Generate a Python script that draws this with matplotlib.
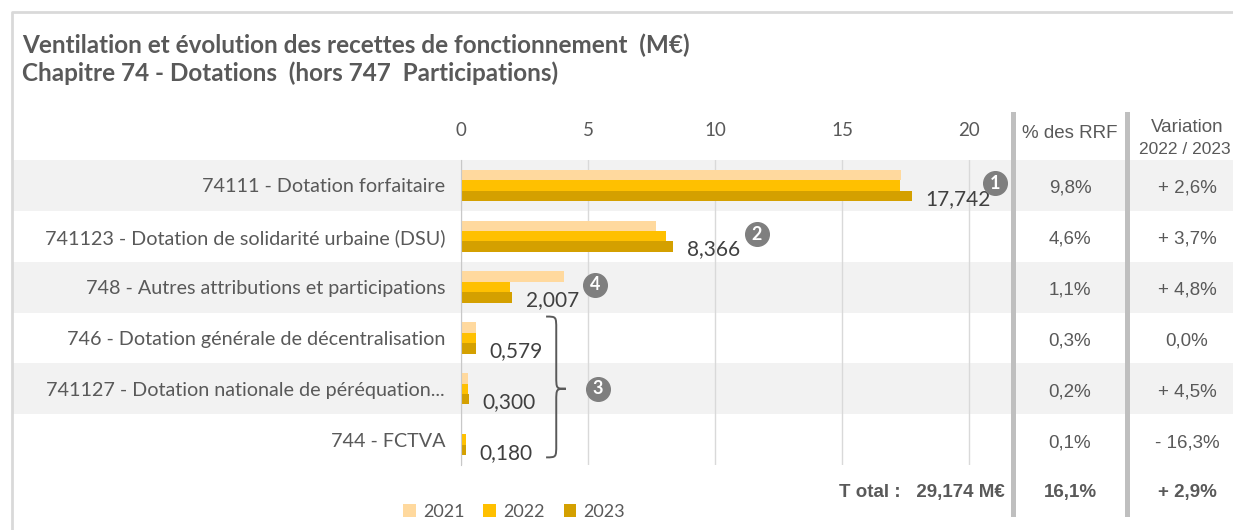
import matplotlib.pyplot as plt
import numpy as np
from matplotlib.lines import Line2D
from matplotlib.patches import Rectangle, PathPatch
from matplotlib.path import Path
from matplotlib.transforms import blended_transform_factory, offset_copy

plt.rcParams['font.family'] = ['Lato', 'DejaVu Sans']

# data
categories = [
    '74111 - Dotation forfaitaire',
    '741123 - Dotation de solidarité urbaine (DSU)',
    '748 - Autres attributions et participations',
    '746 - Dotation générale de décentralisation',
    '741127 - Dotation nationale de péréquation...',
    '744 - FCTVA',
]
years = ['2021', '2022', '2023']
v2021 = [17.33, 7.68, 4.04, 0.58, 0.28, 0.0]
v2022 = [17.29, 8.07, 1.915, 0.579, 0.287, 0.215]
v2023 = [17.742, 8.366, 2.007, 0.579, 0.300, 0.180]
pct_rrf = ['9,8%', '4,6%', '1,1%', '0,3%', '0,2%', '0,1%']
variation = ['+ 2,6%', '+ 3,7%', '+ 4,8%', '0,0%', '+ 4,5%', '- 16,3%']
total_label = 'T otal :   29,174 M€'
total_pct = '16,1%'
total_var = '+ 2,9%'
badges = ['1', '2', '4']          # badges next to rows 0, 1, 2
xticks = [0, 5, 10, 15, 20]

colors = ['#FFD99E', '#FFC000', '#D4A000']
grey_txt = '#595959'

W, H = 1233, 530
def fx(px):
    return px / W
def fy(py):
    return 1 - py / H

fig = plt.figure(figsize=(W / 100, H / 100), dpi=100)

# bar axes: x=0 at 461px, 25.4 px per unit
x0, x1 = 461, 1010
top, bot = 160, 465
ax = fig.add_axes([fx(x0), fy(bot), (x1 - x0) / W, (bot - top) / H])
ax.set_xlim(0, (x1 - x0) / 25.4)
n = len(categories)
y = np.arange(n)

# alternating row bands across the whole figure width
for i in range(0, n, 2):
    ax.axhspan(i - 0.5, i + 0.5, xmin=(12 - x0) / (x1 - x0), xmax=(W - x0) / (x1 - x0),
               color='#F2F2F2', zorder=0, clip_on=False, lw=0)

h = 0.205
bars = []
for k, (vals, c) in enumerate(zip([v2021, v2022, v2023], colors)):
    b = ax.barh(y + (k - 1) * h, vals, height=h, color=c, zorder=2)
    bars.append(b)

ax.set_ylim(n - 0.5, -0.5)
ax.set_axisbelow(True)
ax.grid(axis='x', color='#D9D9D9', lw=1)
ax.set_xticks(xticks)
ax.xaxis.tick_top()
ax.tick_params(axis='x', length=0, pad=15, labelsize=13.5, labelcolor=grey_txt)
ax.set_yticks(y)
ax.set_yticklabels(categories)
ax.tick_params(axis='y', length=0, pad=11.5, labelsize=14.2, labelcolor=grey_txt)
for s in ['top', 'right', 'bottom']:
    ax.spines[s].set_visible(False)
ax.spines['left'].set_color('#C8C8C8')

# value labels for 2023
for i, v in enumerate(v2023):
    ax.annotate(f'{v:.3f}'.replace('.', ','), xy=(v, i), xytext=(10, -9.5),
                textcoords='offset points', ha='left', va='center',
                fontsize=15, color='#404040', zorder=4)

# numbered badges
badge_tr = offset_copy(ax.transData, fig=fig, x=60, y=1.5, units='points')
for i, num in enumerate(badges):
    ax.plot(v2023[i], i, marker='o', ms=17, color='#7F7F7F', transform=badge_tr,
            clip_on=False, zorder=5)
    ax.text(v2023[i], i, num, transform=badge_tr, ha='center', va='center',
            color='white', fontweight='bold', fontsize=13, zorder=6)
ax.plot(5.4, 4.0, marker='o', ms=17, color='#7F7F7F', clip_on=False, zorder=5)
ax.text(5.4, 4.0, '3', ha='center', va='center', color='white',
        fontweight='bold', fontsize=13, zorder=6)

# curly brace grouping rows 3-5
bx0, bx1, bx2 = 3.35, 3.75, 4.13
yt, ytip, yb, r = 2.58, 4.0, 5.35, 0.25
verts = [(bx0, yt), (bx1, yt), (bx1, yt), (bx1, yt + r),
         (bx1, ytip - r),
         (bx1, ytip), (bx1, ytip), (bx2, ytip),
         (bx1, ytip), (bx1, ytip), (bx1, ytip + r),
         (bx1, yb - r),
         (bx1, yb), (bx1, yb), (bx0, yb)]
codes = [Path.MOVETO, Path.CURVE4, Path.CURVE4, Path.CURVE4,
         Path.LINETO,
         Path.CURVE4, Path.CURVE4, Path.CURVE4,
         Path.CURVE4, Path.CURVE4, Path.CURVE4,
         Path.LINETO,
         Path.CURVE4, Path.CURVE4, Path.CURVE4]
ax.add_patch(PathPatch(Path(verts, codes), fill=False, ec=grey_txt, lw=1.4,
                       clip_on=False, zorder=4))

# right-hand table columns
tr = blended_transform_factory(fig.transFigure, ax.transData)
col1, col2 = fx(1070), fx(1187)
tfont = dict(family=['Liberation Sans', 'DejaVu Sans'], fontsize=13.5, color=grey_txt,
             ha='center', va='center')
for i in range(n):
    ax.text(col1, i + 0.06, pct_rrf[i], transform=tr, **tfont)
    ax.text(col2, i + 0.06, variation[i], transform=tr, **tfont)
fig.text(col1, fy(134), '% des RRF', **tfont)
fig.text(col2, fy(127), 'Variation', **tfont)
fig.text(fx(1185), fy(149), '2022 / 2023', **dict(tfont, fontsize=12.5))

bfont = dict(family=['Liberation Sans', 'DejaVu Sans'], fontsize=13.5, color=grey_txt,
             fontweight='bold', va='center')
fig.text(fx(1005), fy(493), total_label, ha='right', **bfont)
fig.text(col1, fy(493), total_pct, ha='center', **bfont)
fig.text(col2, fy(493), total_var, ha='center', **bfont)

# vertical separators
for sx in [1011, 1125]:
    fig.add_artist(Rectangle((fx(sx), fy(517)), 5 / W, (517 - 112) / H,
                             transform=fig.transFigure, color='#BFBFBF', lw=0))

# outer border
fig.add_artist(Line2D([fx(12), fx(12), 1], [0, fy(12), fy(12)],
                      transform=fig.transFigure, color='#D9D9D9', lw=2))

# titles
fig.text(fx(22), fy(45), 'Ventilation et évolution des recettes de fonctionnement  (M€)',
         fontsize=17.5, fontweight='bold', color=grey_txt, va='center')
fig.text(fx(22), fy(73), 'Chapitre 74 - Dotations  (hors 747  Participations)',
         fontsize=17.5, fontweight='bold', color=grey_txt, va='center')

# legend
fig.legend(bars, years, loc='center', bbox_to_anchor=(fx(514), fy(512)), ncol=3,
           frameon=False, handlelength=0.7, handleheight=0.7, handletextpad=0.4,
           columnspacing=1.05, fontsize=13, labelcolor=grey_txt)

fig.savefig('out.png', dpi=100)
